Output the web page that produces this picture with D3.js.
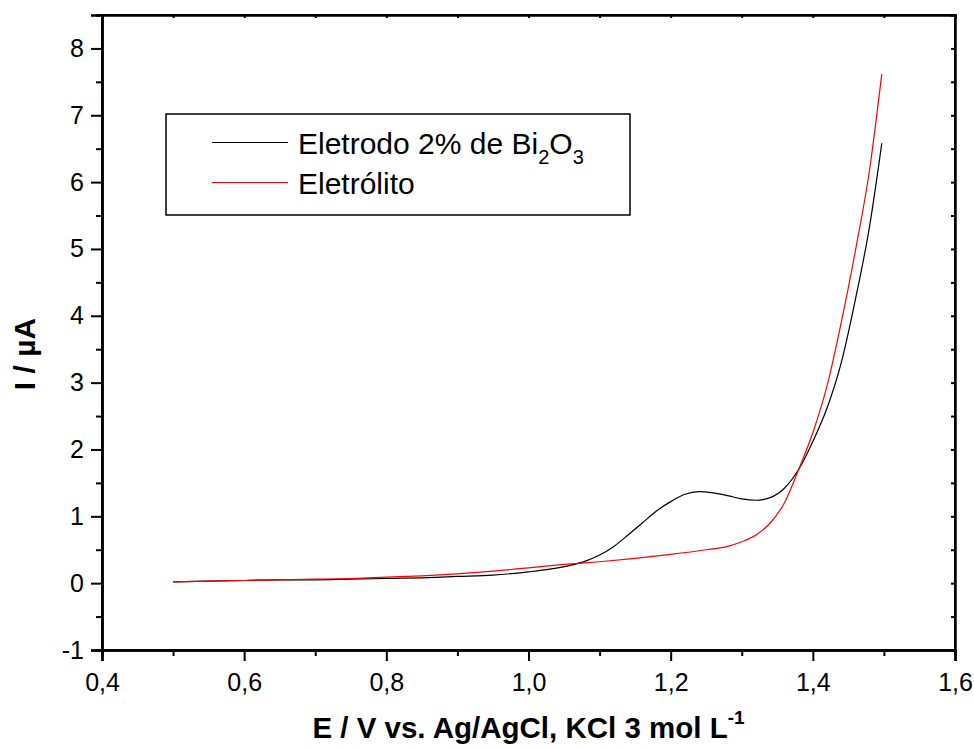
<!DOCTYPE html>
<html><head><meta charset="utf-8">
<script src="https://cdn.jsdelivr.net/npm/d3@7"></script>
<style>body{margin:0;background:#fff} svg{display:block} text{font-family:Arial,"Liberation Sans",sans-serif;fill:#000}</style>
</head><body><svg id="c" width="974" height="748"></svg>
<script>
const potentialBlack = [0.50,0.55,0.60,0.65,0.70,0.75,0.80,0.85,0.90,0.95,1.00,1.03,1.06,1.08,1.10,1.12,1.14,1.16,1.18,1.20,1.22,1.24,1.26,1.28,1.30,1.32,1.34,1.36,1.38,1.40,1.42,1.44,1.46,1.48,1.497];
const currentBlack   = [0.02,0.03,0.04,0.05,0.05,0.06,0.07,0.08,0.10,0.12,0.17,0.21,0.27,0.33,0.42,0.55,0.72,0.90,1.08,1.22,1.33,1.37,1.35,1.31,1.26,1.24,1.28,1.42,1.70,2.12,2.62,3.30,4.25,5.35,6.58];
const potentialRed = [0.50,0.55,0.60,0.65,0.70,0.75,0.80,0.85,0.90,0.95,1.00,1.05,1.10,1.15,1.20,1.25,1.28,1.30,1.32,1.34,1.36,1.38,1.40,1.42,1.44,1.46,1.48,1.497];
const currentRed   = [0.02,0.03,0.04,0.05,0.06,0.07,0.09,0.11,0.14,0.18,0.23,0.28,0.32,0.37,0.43,0.50,0.55,0.62,0.72,0.90,1.20,1.70,2.25,2.95,3.90,4.98,6.20,7.62];
const xTickValues = [0.4,0.6,0.8,1.0,1.2,1.4,1.6];
const xMinorValues = [0.5,0.7,0.9,1.1,1.3,1.5];
const yTickValues = [-1,0,1,2,3,4,5,6,7,8];
const yMinorValues = [-0.5,0.5,1.5,2.5,3.5,4.5,5.5,6.5,7.5];
const seriesColors = ["#000000","#ff0000"];
const xTitle = "E / V vs. Ag/AgCl, KCl 3 mol L";
const yTitle = "I / µA";

const svg = d3.select("#c");
const L = 102, R = 955, T = 15, B = 650;
const x = d3.scaleLinear().domain([0.4,1.6]).range([L,R]);
const y = d3.scaleLinear().domain([-1,8.5]).range([B,T]);
const fmt = d => d.toFixed(1).replace(".", ",");

// frame
svg.append("rect").attr("x",L).attr("y",T).attr("width",R-L).attr("height",B-T)
  .attr("fill","none").attr("stroke","#000").attr("stroke-width",2);

// bottom axis
const gx = svg.append("g").attr("transform",`translate(0,${B})`)
  .call(d3.axisBottom(x).tickValues(xTickValues).tickFormat(fmt).tickSize(11).tickPadding(12));
gx.append("g").call(d3.axisBottom(x).tickValues(xMinorValues).tickFormat("").tickSize(6));
// left axis
const gy = svg.append("g").attr("transform",`translate(${L},0)`)
  .call(d3.axisLeft(y).tickValues(yTickValues).tickFormat(d => String(d)).tickSize(11).tickPadding(7));
gy.append("g").call(d3.axisLeft(y).tickValues(yMinorValues).tickFormat("").tickSize(6));
// top axis (inward)
svg.append("g").attr("transform",`translate(0,${T})`)
  .call(d3.axisTop(x).tickValues(xTickValues.concat(xMinorValues)).tickFormat("").tickSize(-3));
// right axis (inward)
svg.append("g").attr("transform",`translate(${R},0)`)
  .call(d3.axisRight(y).tickValues(yTickValues.concat(yMinorValues)).tickFormat("").tickSize(-4));

svg.selectAll(".domain").attr("stroke","#000").attr("stroke-width",2.5);
svg.selectAll(".tick line").attr("stroke","#000").attr("stroke-width",2);
svg.selectAll(".tick text").attr("font-size",25).attr("font-family","Arial,'Liberation Sans',sans-serif").attr("fill","#000");

// curves
const line = d3.line().x(d=>x(d[0])).y(d=>y(d[1])).curve(d3.curveMonotoneX);
const black = d3.zip(potentialBlack,currentBlack);
const red = d3.zip(potentialRed,currentRed);
svg.append("path").datum(black).attr("d",line).attr("fill","none").attr("stroke",seriesColors[0]).attr("stroke-width",1.2);
svg.append("path").datum(red).attr("d",line).attr("fill","none").attr("stroke",seriesColors[1]).attr("stroke-width",1.2);

// legend
svg.append("rect").attr("x",166).attr("y",114).attr("width",464).attr("height",101)
  .attr("fill","#fff").attr("stroke","#000").attr("stroke-width",1.5);
svg.append("line").attr("x1",212).attr("x2",288).attr("y1",142.5).attr("y2",142.5).attr("stroke",seriesColors[0]).attr("stroke-width",1.2);
svg.append("line").attr("x1",212).attr("x2",288).attr("y1",182.5).attr("y2",182.5).attr("stroke",seriesColors[1]).attr("stroke-width",1.2);
const t1 = svg.append("text").attr("x",298).attr("y",154).attr("font-size",30);
t1.append("tspan").text("Eletrodo 2% de Bi");
t1.append("tspan").attr("dy",10).attr("font-size",20).text("2");
t1.append("tspan").attr("dy",-10).text("O");
t1.append("tspan").attr("dy",10).attr("font-size",20).text("3");
svg.append("text").attr("x",298).attr("y",194).attr("font-size",30).text("Eletrólito");

// axis titles
const xt = svg.append("text").attr("x",(L+R)/2).attr("y",738).attr("text-anchor","middle")
  .attr("font-size",29.5).attr("font-weight","bold");
xt.append("tspan").text(xTitle);
xt.append("tspan").attr("dy",-14).attr("font-size",19).text("-1");
svg.append("text").attr("transform","translate(35,354) rotate(-90)").attr("text-anchor","middle")
  .attr("font-size",30).attr("font-weight","bold").text(yTitle);
</script></body></html>
